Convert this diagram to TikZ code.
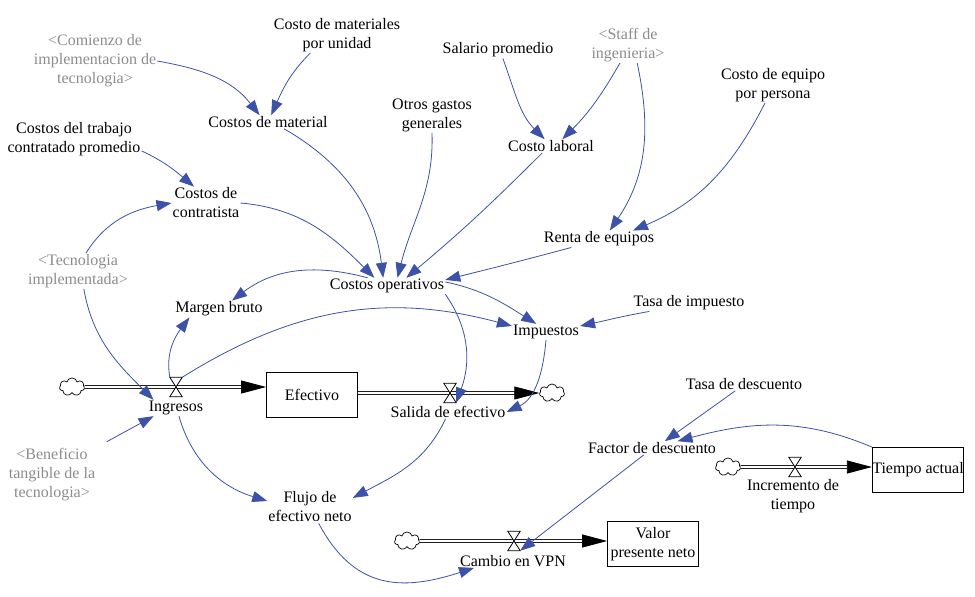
\documentclass[tikz,border=0pt]{standalone}
\usepackage{fontspec}
\setmainfont{Liberation Serif}
\usetikzlibrary{arrows.meta,shapes.symbols}
\definecolor{linkblue}{RGB}{60,82,168}
\definecolor{shadow}{RGB}{140,140,140}

\begin{document}
\begin{tikzpicture}[x=1pt,y=1pt,
    var/.style={align=center,inner sep=1pt,font=\fontsize{16}{19}\selectfont},
    ghost/.style={var,text=shadow},
    stock/.style={var,draw,line width=0.8pt,inner sep=0pt,minimum width=91pt,minimum height=45pt},
    sink/.style={draw,cloud,cloud puffs=7,aspect=1.3,inner sep=0pt,minimum width=25pt,minimum height=18pt,line width=0.7pt},
    valve/.style={inner sep=0pt,minimum width=12pt,minimum height=19pt},
    pipe/.style={double distance=2.2pt,line width=0.8pt,-{Triangle[length=25pt,width=13pt]}},
    link/.style={draw=linkblue,line width=0.8pt,-{Triangle[length=15pt,width=11pt]}}]
      \useasboundingbox (0,0) rectangle (975,-597);

      % auxiliaries and constants
      \node[ghost] (comienzo) at (95,-61) {<Comienzo de\\implementacion de\\tecnologia>};
      \node[var] (cmpu) at (337,-35) {Costo de materiales\\por unidad};
      \node[var] (cmat) at (268,-122) {Costos de material};
      \node[var] (ctrab) at (74,-139) {Costos del trabajo\\contratado promedio};
      \node[var] (otros) at (432,-115) {Otros gastos\\generales};
      \node[var] (salario) at (498,-50) {Salario promedio};
      \node[ghost] (staff) at (628,-45) {<Staff de\\ingenieria>};
      \node[var] (claboral) at (551,-146) {Costo laboral};
      \node[var] (cequipo) at (773,-85) {Costo de equipo\\por persona};
      \node[var] (renta) at (599,-239) {Renta de equipos};
      \node[var] (ccontr) at (206,-203) {Costos de\\contratista};
      \node[ghost] (tecimpl) at (78,-271) {<Tecnologia\\implementada>};
      \node[var] (coper) at (387,-286) {Costos operativos};
      \node[var] (margen) at (219,-309) {Margen bruto};
      \node[var] (impuestos) at (546,-332) {Impuestos};
      \node[var] (timp) at (689,-303) {Tasa de impuesto};
      \node[ghost] (beneficio) at (52,-475) {<Beneficio\\tangible de la\\tecnologia>};
      \node[var] (flujo) at (310,-507) {Flujo de\\efectivo neto};
      \node[var] (tdesc) at (744,-384) {Tasa de descuento};
      \node[var] (factor) at (652,-448) {Factor de descuento};

      % stocks, clouds and valves
      \node[stock] (efectivo) at (312,-394.5) {Efectivo};
      \node[stock] (vpn) at (653,-544) {Valor\\presente neto};
      \node[stock] (tiempo) at (918,-470) {Tiempo actual};
      \node[sink] (cl1) at (72,-387) {};
      \node[sink] (cl2) at (552,-393) {};
      \node[sink] (cl3) at (407,-541) {};
      \node[sink] (cl4) at (728,-467) {};
      \node[valve] (vIng) at (176,-387) {};
      \node[valve] (vSal) at (450,-393) {};
      \node[valve] (vVPN) at (514,-541) {};
      \node[valve] (vInc) at (795,-467) {};
      \node[var] (ingresos) at (176,-408) {Ingresos};
      \node[var] (salida) at (448,-412) {Salida de efectivo};
      \node[var] (cambio) at (513,-561) {Cambio en VPN};
      \node[var] (incremento) at (793,-496) {Incremento de\\tiempo};

      % flows
      \draw[pipe] (cl1) -- (efectivo.west |- cl1);
      \draw[pipe] (efectivo.east |- cl2) -- (cl2);
      \draw[pipe] (cl3) -- (vpn.west |- cl3);
      \draw[pipe] (cl4) -- (tiempo.west |- cl4);
      \foreach \v in {vIng,vSal,vVPN,vInc}
        \filldraw[fill=white,line width=0.8pt] (\v.north west) -- (\v.north east)
          -- (\v.south west) -- (\v.south east) -- cycle;

      % links
      \draw[link] (comienzo.east) to[out=-10,in=128] (cmat.141);
      \draw[link] (cmpu.214) to[out=225,in=66] (cmat.65);
      \draw[link] (ctrab.-10) to[out=-25,in=140] (ccontr.126);
      \draw[link] (tecimpl.66) to[out=58,in=190] (ccontr.west);
      \draw[link] (tecimpl.-72) to[out=-80,in=135] (ingresos.160);
      \draw[link,shorten <=12pt] (beneficio.north east) -- (ingresos.200);
      \draw[link] (cmat.-23) to[out=-30,in=97] (coper.115);
      \draw[link] (otros.south) to[out=-88,in=76] (coper.38);
      \draw[link] (ccontr.east) to[out=-5,in=135] (coper.147);
      \draw[link] (claboral.218) to[out=-135,in=40] (coper.23);
      \draw[link] (renta.197) to[out=195,in=14] (coper.6);
      \draw[link] (salario.-60) to[out=-70,in=135] (claboral.133);
      \draw[link] (staff.246) to[out=240,in=45] (claboral.31);
      \draw[link] (staff.-63) to[out=-78,in=56] (renta.38);
      \draw[link] (cequipo.246) to[out=243,in=23] (renta.14);
      \draw[link] (coper.157) to[out=165,in=37] (margen.33);
      \draw[link] (vIng.north west) to[out=100,in=233] (margen.196);
      \draw[link] (vIng.north east) to[out=32,in=165] (impuestos.170);
      \draw[link] (coper.4) to[out=-12,in=148] (impuestos.140);
      \draw[link] (coper.south east) to[out=-55,in=70] (vSal.south east);
      \draw[link] (timp.192) to[out=190,in=12] (impuestos.10);
      \draw[link] (impuestos.south) to[out=-95,in=25] (salida.east);
      \draw[link] (salida.250) to[out=245,in=28] (flujo.12);
      \draw[link] (ingresos.-70) to[out=-74,in=163] (flujo.172);
      \draw[link] (factor.220) -- (vVPN.south east);
      \draw[link] (tdesc.218) -- (factor.28);
      \draw[link] (tiempo.north west) to[out=157,in=15] (factor.15);
      \draw[link] (flujo.-62) to[out=-62,in=198,looseness=1.2] (cambio.190);
    \end{tikzpicture}
\end{document}
